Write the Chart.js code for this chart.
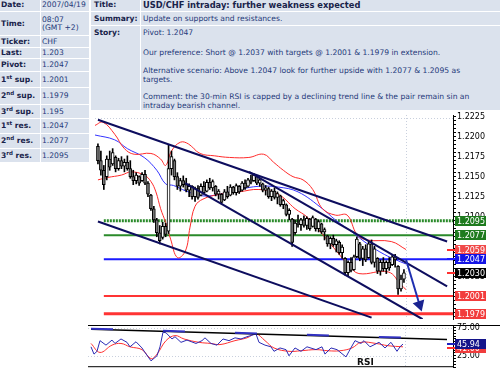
<!DOCTYPE html>
<html>
<head>
<meta charset="utf-8">
<script src="https://cdn.jsdelivr.net/npm/chart.js@4.4.1/dist/chart.umd.min.js"></script>
<style>
  body { margin: 0; width: 500px; height: 373px; overflow: hidden; background: #fff; position: relative;
         font-family: "DejaVu Sans", Verdana, sans-serif; }
  table.info { position: absolute; top: -3px; border-collapse: separate; border-spacing: 1px; background: #fff;
               font-size: 7.6px; color: #25397a; table-layout: fixed; }
  table.info th, table.info td { background: #dbe2ed; padding: 0 0 0 1px; white-space: nowrap; overflow: hidden;
                                 vertical-align: middle; text-align: left; line-height: 8px; }
  table.info th { font-weight: bold; color: #18224a; }
  table.info sup { font-size: 5.5px; line-height: 0; vertical-align: 3px; }
  #left { left: -1px; width: 91px; }
  #right { left: 90px; width: 412px; }
  #right th { padding-left: 3px; }
  #right td { padding-left: 2px; }
  #right th.title { padding-left: 2px; font-size: 8.3px; }
  .story { vertical-align: top !important; padding-top: 2px !important; line-height: 9px !important; }
  .story p { margin: 0; }
  canvas { position: absolute; }
  #sep { position: absolute; left: 88px; top: 325px; width: 412px; height: 1px; background: #000; }
  #rsiTag { position: absolute; left: 357px; top: 357px; font: bold 9px "DejaVu Sans", sans-serif; color: #111; }
</style>
</head>
<body>
<table class="info" id="left">
  <colgroup><col style="width:40px"><col style="width:48px"></colgroup>
  <tr style="height:13px"><th>Date:</th><td>2007/04/19</td></tr>
  <tr style="height:23px"><th>Time:</th><td>08:07<br>(GMT +2)</td></tr>
  <tr style="height:11px"><th>Ticker:</th><td>CHF</td></tr>
  <tr style="height:10px"><th>Last:</th><td>1.203</td></tr>
  <tr style="height:12px"><th>Pivot:</th><td>1.2047</td></tr>
  <tr style="height:15px"><th>1<sup>st</sup> sup.</th><td>1.2001</td></tr>
  <tr style="height:16px"><th>2<sup>nd</sup> sup.</th><td>1.1979</td></tr>
  <tr style="height:13px"><th>3<sup>rd</sup> sup.</th><td>1.195</td></tr>
  <tr style="height:14px"><th>1<sup>st</sup> res.</th><td>1.2047</td></tr>
  <tr style="height:14px"><th>2<sup>nd</sup> res.</th><td>1.2077</td></tr>
  <tr style="height:13px"><th>3<sup>rd</sup> res.</th><td>1.2095</td></tr>
</table>
<table class="info" id="right">
  <colgroup><col style="width:49px"><col style="width:360px"></colgroup>
  <tr style="height:13px"><th>Title:</th><th class="title">USD/CHF intraday: further weakness expected</th></tr>
  <tr style="height:13px"><th>Summary:</th><td>Update on supports and resistances.</td></tr>
  <tr style="height:84px"><th class="story">Story:</th><td class="story">
    <p>Pivot: 1.2047</p>
    <p style="margin-top:11px">Our preference: Short @ 1.2037 with targets @ 1.2001 &amp; 1.1979 in extension.</p>
    <p style="margin-top:9px">Alternative scenario: Above 1.2047 look for further upside with 1.2077 &amp; 1.2095 as<br>targets.</p>
    <p style="margin-top:8px">Comment: the 30-min RSI is capped by a declining trend line &amp; the pair remain sin an<br>intraday bearish channel.</p>
  </td></tr>
</table>

<canvas id="price" width="412" height="218" style="left:88px;top:108px"></canvas>
<canvas id="rsi" width="412" height="53" style="left:88px;top:320px"></canvas>
<div id="sep"></div>
<div id="rsiTag">RSI</div>

<script>
// 30-min USD/CHF bars (bar index 0..104)
const barHigh = [1.2191,1.2182,1.2164,1.2176,1.2182,1.2185,1.2176,1.2173,1.2175,1.2172,
  1.2176,1.2170,1.2158,1.2155,1.2151,1.2155,1.2158,1.2144,1.2128,1.2113,
  1.2098,1.2089,1.2093,1.2092,1.2190,1.2182,1.2172,1.2155,1.2148,1.2151,
  1.2148,1.2141,1.2139,1.2137,1.2139,1.2141,1.2144,1.2146,1.2148,1.2146,
  1.2139,1.2134,1.2129,1.2134,1.2138,1.2140,1.2138,1.2141,1.2139,1.2144,
  1.2146,1.2148,1.2152,1.2154,1.2151,1.2148,1.2142,1.2139,1.2137,1.2134,
  1.2136,1.2131,1.2127,1.2122,1.2116,1.2110,1.2098,1.2096,1.2102,1.2098,
  1.2101,1.2100,1.2098,1.2101,1.2098,1.2096,1.2092,1.2086,1.2077,1.2075,
  1.2077,1.2072,1.2070,1.2065,1.2049,1.2045,1.2049,1.2052,1.2075,1.2068,
  1.2063,1.2065,1.2069,1.2071,1.2063,1.2049,1.2046,1.2049,1.2045,1.2049,
  1.2053,1.2053,1.2039,1.2027,1.2034];
const barLow = [1.2166,1.2152,1.2134,1.2146,1.2158,1.2164,1.2156,1.2158,1.2160,1.2156,
  1.2158,1.2148,1.2140,1.2141,1.2139,1.2144,1.2140,1.2125,1.2108,1.2093,
  1.2075,1.2066,1.2072,1.2075,1.2079,1.2152,1.2146,1.2134,1.2132,1.2137,
  1.2131,1.2125,1.2122,1.2119,1.2122,1.2126,1.2128,1.2131,1.2134,1.2132,
  1.2126,1.2122,1.2116,1.2120,1.2123,1.2126,1.2128,1.2127,1.2129,1.2132,
  1.2134,1.2137,1.2141,1.2144,1.2140,1.2138,1.2131,1.2127,1.2123,1.2120,
  1.2122,1.2116,1.2113,1.2110,1.2101,1.2096,1.2063,1.2078,1.2087,1.2083,
  1.2087,1.2084,1.2083,1.2087,1.2082,1.2081,1.2079,1.2071,1.2063,1.2060,
  1.2063,1.2056,1.2053,1.2048,1.2027,1.2025,1.2031,1.2033,1.2049,1.2045,
  1.2039,1.2044,1.2048,1.2041,1.2037,1.2029,1.2027,1.2032,1.2029,1.2033,
  1.2039,1.2037,1.2003,1.2007,1.2018];
const barOpen = [1.2188,1.2170,1.2158,1.2150,1.2172,1.2166,1.2174,1.2160,1.2170,1.2163,
  1.2168,1.2160,1.2150,1.2145,1.2150,1.2145,1.2153,1.2142,1.2127,1.2110,
  1.2096,1.2080,1.2074,1.2088,1.2082,1.2160,1.2170,1.2150,1.2138,1.2145,
  1.2140,1.2133,1.2138,1.2125,1.2135,1.2127,1.2138,1.2132,1.2143,1.2136,
  1.2138,1.2128,1.2128,1.2121,1.2131,1.2127,1.2137,1.2130,1.2138,1.2133,
  1.2142,1.2138,1.2146,1.2145,1.2150,1.2142,1.2141,1.2133,1.2135,1.2125,
  1.2132,1.2124,1.2126,1.2115,1.2115,1.2103,1.2097,1.2080,1.2092,1.2090,
  1.2096,1.2089,1.2097,1.2088,1.2097,1.2085,1.2091,1.2081,1.2076,1.2066,
  1.2073,1.2065,1.2068,1.2055,1.2048,1.2030,1.2043,1.2034,1.2050,1.2066,
  1.2048,1.2060,1.2049,1.2066,1.2043,1.2048,1.2032,1.2043,1.2035,1.2043,
  1.2040,1.2050,1.2038,1.2010,1.2022];
const barClose = [1.2170,1.2158,1.2140,1.2172,1.2162,1.2180,1.2160,1.2170,1.2163,1.2168,
  1.2160,1.2150,1.2145,1.2152,1.2142,1.2153,1.2142,1.2128,1.2110,1.2096,
  1.2080,1.2070,1.2088,1.2078,1.2160,1.2175,1.2150,1.2138,1.2145,1.2140,
  1.2133,1.2138,1.2125,1.2135,1.2124,1.2138,1.2130,1.2143,1.2136,1.2144,
  1.2128,1.2132,1.2118,1.2131,1.2125,1.2137,1.2130,1.2139,1.2131,1.2142,
  1.2136,1.2146,1.2143,1.2152,1.2142,1.2146,1.2133,1.2136,1.2125,1.2132,
  1.2124,1.2129,1.2115,1.2120,1.2103,1.2108,1.2068,1.2092,1.2090,1.2096,
  1.2089,1.2098,1.2085,1.2099,1.2085,1.2094,1.2081,1.2084,1.2066,1.2073,
  1.2065,1.2070,1.2055,1.2062,1.2030,1.2043,1.2033,1.2050,1.2072,1.2048,
  1.2060,1.2046,1.2066,1.2043,1.2060,1.2032,1.2043,1.2035,1.2043,1.2036,
  1.2050,1.2046,1.2010,1.2022,1.2030];

// bollinger bands and moving average (x = bar index)
const upperX = [-1,1.7,5.7,9,12.3,18,21.3,23,25,28,30.7,34.7,39.7,44.7,51.3,56.3,59.7,63,66.3,69.7,73,76.3,80.7,84.7,88,91.3,99.7,104.7];
const upperVal = [1.2214,1.2218,1.2203,1.2185,1.2178,1.2179,1.2172,1.2164,1.2182,1.2193,1.2191,1.2179,1.2176,1.2174,1.2174,1.2178,1.2168,1.2158,1.2150,1.2146,1.2134,1.2110,1.2102,1.2102,1.2078,1.2071,1.2069,1.2059];
const lowerX = [0,3.3,8,11.3,15.7,18,19.7,21.3,23,24.7,27,29.7,31.3,33,35.7,41.3,48,54.7,61.3,67,71.3,76.3,82,85.3,88.7,98.7,103,104.7];
const lowerVal = [1.2146,1.2149,1.2152,1.2156,1.2152,1.2144,1.2131,1.2110,1.2093,1.2072,1.2049,1.2057,1.2087,1.2113,1.2122,1.2128,1.2131,1.2134,1.2128,1.2110,1.2099,1.2078,1.2053,1.2039,1.2029,1.2031,1.2015,1.2009];
const maX = [-1,5.7,10,15.7,20,23,25.7,30,35.7,41.3,48,54.7,61.3,68,76.3,80.7,86.3,92,97.3,102,104.7];
const maVal = [1.2202,1.2196,1.2185,1.2174,1.2158,1.2141,1.2139,1.2132,1.2126,1.2128,1.2134,1.2138,1.2137,1.2131,1.2110,1.2096,1.2081,1.2065,1.2053,1.2045,1.2041];

// support / resistance levels
const levelNames = ['3rd res.', '2nd res.', '1st res.', '1st sup.', '2nd sup.'];
const levelValues = [1.2095, 1.2077, 1.2047, 1.2001, 1.1979];
const lastPrice = 1.2030;
const upperLast = 1.2059;

// channel lines [x1, y1, x2, y2] and the target arrow
const channelLines = [[0, 1.2221, 118.67, 1.2069], [51.33, 1.2156, 118.67, 1.2013],
                      [29.67, 1.2142, 110.33, 1.1972], [0, 1.2094, 93, 1.1974]];
const arrowLine = [104.67, 1.2047, 109.3, 1.1990];

// RSI panel
const rsiX = [0,1,2,3,5,7,8,10,12,13,15,17,18,20,22,23,24,25,27,28,30,32,35,37,38,40,42,44,46,48,50,52,55,56,58,60,61,63,65,66,68,70,72,75,77,78,80,82,85,86,88,90,91,93,96,98,100,102,103,104];
const rsiVal = [41,28,33,52,44,53,47,55,49,41,50,39,31,16,25,41,67,66,55,59,49,53,47,52,57,47,44,55,52,57,55,59,64,49,44,41,33,39,36,25,39,33,41,36,41,28,39,36,23,33,52,47,52,41,49,39,49,33,41,45.94];
const rsiMaX = [0,3,7,10,13,17,20,22,25,28,31,36,40,43,48,52,55,58,61,66,70,75,79,83,87,90,95,99,104];
const rsiMaVal = [47,31,44,47,41,36,20,28,52,61,55,49,47,45,52,57,64,52,39,33,34,36,34,34,39,49,47,43,41];
const rsiTrend = [0, 72.3, 118.67, 54.2];
const rsiTickLabels = [75, 25];

const FONT = '"DejaVu Sans", Verdana, sans-serif';
const X_MIN = -1, X_MAX = 120.67, LAST_X = 104.67;
const levelColors = ['#2a8a2a', '#2a8a2a', '#1a1aff', '#ff3434', '#ff3434'];
const levelWidths = [3, 2, 2, 2, 3];
const boxColors = ['#1e7b1e', '#1e7b1e', '#1414e6', '#f23c3c', '#f23c3c'];

const pts = (xs, ys) => xs.map((x, i) => ({ x: x, y: ys[i] }));
const seg = (s) => [{ x: s[0], y: s[1] }, { x: s[2], y: s[3] }];

// value boxes on the right axis + faint guide lines
const markers = {
  id: 'markers',
  beforeDatasetsDraw(chart, args, opts) {
    const { ctx, chartArea: a } = chart;
    const xs = chart.scales.x;
    ctx.save();
    ctx.strokeStyle = '#c9d0dd';
    ctx.lineWidth = 1;
    ctx.setLineDash([1, 2]);
    const vx = Math.round(xs.getPixelForValue(LAST_X)) + 0.5;
    ctx.beginPath(); ctx.moveTo(vx, a.top); ctx.lineTo(vx, a.bottom); ctx.stroke();
    (opts.guides || []).forEach(v => {
      const y = Math.round(chart.scales.y.getPixelForValue(v)) + 0.5;
      ctx.beginPath(); ctx.moveTo(a.left, y); ctx.lineTo(a.right, y); ctx.stroke();
    });
    ctx.restore();
  },
  afterDraw(chart, args, opts) {
    const { ctx, chartArea: a } = chart;
    const ys = chart.scales.y;
    ctx.save();
    if (opts.bottomLine) {
      ctx.fillStyle = '#000';
      ctx.fillRect(a.left, a.bottom - 1, a.right - a.left, 1);
    }
    ctx.font = '8px ' + FONT;
    ctx.textBaseline = 'middle';
    (opts.boxes || []).forEach(b => {
      const y = Math.round(ys.getPixelForValue(b.value));
      if (b.tick) {
        ctx.fillStyle = b.tick;
        ctx.fillRect(a.right - 6, y - 1, 8, 2);
      }
      ctx.fillStyle = b.bg;
      ctx.fillRect(a.right + 2, y - 5, 31, 10);
      ctx.fillStyle = '#fff';
      ctx.fillText(b.text, a.right + 4, y + 0.5);
    });
    ctx.restore();
  }
};

const xScale = { type: 'linear', min: X_MIN, max: X_MAX, display: false, offset: false };

function yAxis(extra) {
  return Object.assign({
    position: 'right',
    afterFit: (s) => { s.width = 47; },
    border: { display: true, color: '#000', width: 1 },
    grid: { drawOnChartArea: false, drawTicks: true, tickLength: 3, tickColor: '#000' },
    ticks: { color: '#000', padding: 1, font: { family: FONT, size: 8 }, autoSkip: false, maxRotation: 0 }
  }, extra);
}

const priceBoxes = levelValues.map((v, i) => ({ value: v, bg: boxColors[i], text: v.toFixed(4) }));
priceBoxes.splice(2, 0, { value: upperLast, bg: '#f04a4a', tick: '#ff3030', text: upperLast.toFixed(4) });
priceBoxes.splice(4, 0, { value: lastPrice, bg: '#000', tick: '#ff3030', text: lastPrice.toFixed(4) });
priceBoxes[3].tick = '#1a1aff';

const priceDatasets = [];
channelLines.forEach(l => priceDatasets.push({
  type: 'line', data: seg(l), borderColor: '#0d0d5e', borderWidth: 2, pointRadius: 0, order: 1
}));
priceDatasets.push({
  type: 'line', data: seg(arrowLine), borderColor: '#1f2fb0', borderWidth: 2, order: 0,
  pointRadius: [0, 5], pointStyle: 'triangle', pointRotation: 162,
  pointBackgroundColor: '#1a2390', pointBorderColor: '#1a2390'
});
priceDatasets.push({
  type: 'bar', data: barHigh.map((h, i) => ({ x: i, y: [barLow[i], h] })),
  backgroundColor: '#000', barThickness: 1, grouped: false, order: 3
});
priceDatasets.push({
  type: 'bar', data: barOpen.map((o, i) => ({ x: i, y: [o, barClose[i]] })),
  backgroundColor: barOpen.map((o, i) => barClose[i] >= o ? '#ffffff' : '#777777'),
  borderColor: '#000', borderWidth: 1, borderSkipped: false, barThickness: 3, grouped: false, order: 2
});
priceDatasets.push({ type: 'line', data: pts(upperX, upperVal), borderColor: '#ff2a2a', borderWidth: 1, pointRadius: 0, tension: 0.4, order: 4 });
priceDatasets.push({ type: 'line', data: pts(lowerX, lowerVal), borderColor: '#ff2a2a', borderWidth: 1, pointRadius: 0, tension: 0.4, order: 4 });
priceDatasets.push({ type: 'line', data: pts(maX, maVal), borderColor: '#3434ff', borderWidth: 1, pointRadius: 0, tension: 0.4, order: 4 });
levelValues.forEach((v, i) => priceDatasets.push({
  type: 'line', data: [{ x: 2, y: v }, { x: X_MAX, y: v }], borderColor: levelColors[i],
  borderWidth: levelWidths[i], borderDash: i === 0 ? [2, 1] : [], pointRadius: 0, order: 5
}));

new Chart(document.getElementById('price'), {
  type: 'bar',
  data: { datasets: priceDatasets },
  options: {
    responsive: false, animation: false, devicePixelRatio: 1,
    layout: { padding: { top: 4, left: 0, right: 0, bottom: 0 } },
    plugins: {
      legend: { display: false }, tooltip: { enabled: false },
      markers: { boxes: priceBoxes, guides: [1.2223] }
    },
    scales: {
      x: xScale,
      y: yAxis({
        min: 1.19723, max: 1.22270,
        afterBuildTicks: (s) => {
          const t = [];
          for (let k = 0; k <= 50; k++) t.push({ value: +(1.1975 + k * 0.0005).toFixed(4) });
          s.ticks = t;
        },
        ticks: { color: '#000', padding: 1, font: { family: FONT, size: 8 }, autoSkip: false,
                 callback: (v) => Math.round(v * 10000) % 25 === 0 ? v.toFixed(4) : '' }
      })
    }
  },
  plugins: [markers]
});

new Chart(document.getElementById('rsi'), {
  type: 'line',
  data: {
    datasets: [
      { data: pts(rsiX, rsiVal), borderColor: '#2b2bb5', borderWidth: 1, pointRadius: 0, order: 2 },
      { data: pts(rsiMaX, rsiMaVal), borderColor: '#ff3030', borderWidth: 1, pointRadius: 0, tension: 0.4, order: 3 },
      { data: seg(rsiTrend), borderColor: '#000', borderWidth: 1.5, pointRadius: 0, order: 1 },
      { data: seg([rsiTrend[0], rsiTrend[1] + 1, rsiTrend[2], rsiTrend[3] + 1]), borderColor: '#3030c0',
        borderWidth: 2, borderDash: [22, 50], pointRadius: 0, order: 0 }
    ]
  },
  options: {
    responsive: false, animation: false, devicePixelRatio: 1,
    layout: { padding: { top: 6, left: 0, right: 0, bottom: 0 } },
    plugins: {
      legend: { display: false }, tooltip: { enabled: false },
      markers: {
        bottomLine: true, guides: rsiTickLabels,
        boxes: [
          { value: rsiMaVal[rsiMaVal.length - 1] - 1.5, bg: '#f03c3c', tick: '#ff3030', text: rsiMaVal[rsiMaVal.length - 1].toFixed(2) },
          { value: rsiVal[rsiVal.length - 1], bg: '#14148a', tick: '#2020c0', text: rsiVal[rsiVal.length - 1].toFixed(2) }
        ]
      }
    },
    scales: {
      x: xScale,
      y: yAxis({
        min: 4.7, max: 78.1,
        afterBuildTicks: (s) => {
          const t = [];
          for (let v = 75; v >= 5; v -= 5) t.push({ value: v });
          s.ticks = t;
        },
        ticks: { color: '#000', padding: 1, font: { family: FONT, size: 8 }, autoSkip: false,
                 callback: (v) => rsiTickLabels.includes(v) ? v.toFixed(2) : '' }
      })
    }
  },
  plugins: [markers]
});
</script>
</body>
</html>
